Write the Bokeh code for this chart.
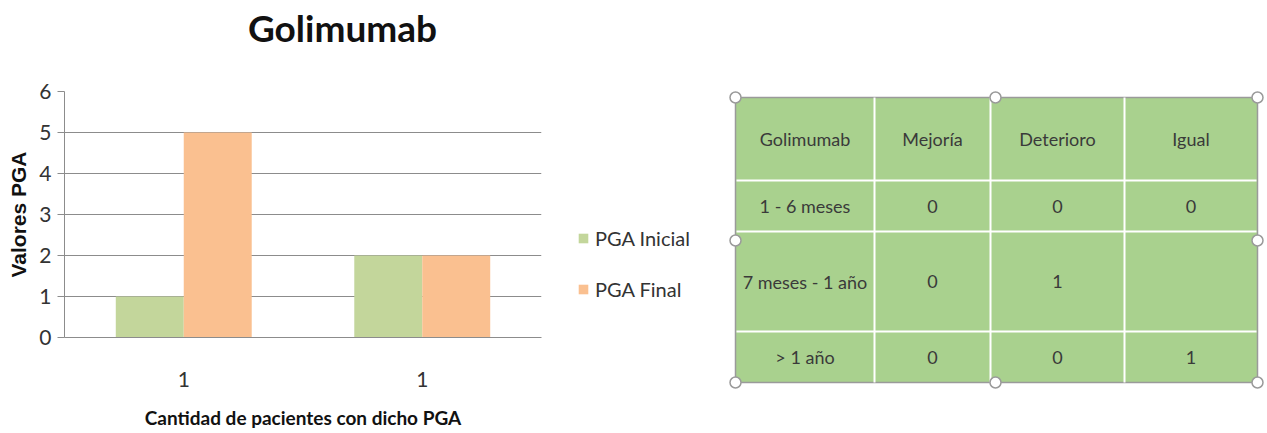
from bokeh.plotting import figure
from bokeh.layouts import row, column
from bokeh.models import Range1d, FixedTicker, Legend, LegendItem
from bokeh.core.properties import value
from bokeh.embed import file_html
from bokeh.resources import INLINE

# ---- chart data ----
title_text = "Golimumab"
categories = ["1", "1"]
pga_inicial = [1, 2]
pga_final = [5, 2]
series_names = ["PGA Inicial", "PGA Final"]
series_colors = ["#c3d69b", "#fac090"]

# ---- table data ----
table_header = ["Golimumab", "Mejoría", "Deterioro", "Igual"]
table_rows = ["1 - 6 meses", "7 meses - 1 año", "> 1 año"]
mejoria = ["0", "0", "0"]
deterioro = ["0", "1", "0"]
igual = ["0", "", "1"]

FONT = "Lato"
GRID = "#8c8c8c"
TXT = "#333333"
W, H = 1267, 433
TOP = 71          # height of the title strip
CHART_W = 560     # width of the bar-chart figure


def blank(fig):
    fig.outline_line_color = None
    fig.axis.visible = False
    fig.grid.visible = False


# ================= title strip =================
head = figure(width=W, height=TOP, output_backend="svg", toolbar_location=None,
              x_range=Range1d(0, W), y_range=Range1d(TOP, 0), min_border=0,
              frame_align=False)
blank(head)
head.text(x=[342], y=[27], text=[title_text], text_align="center",
          text_baseline="middle", text_font=value(FONT),
          text_font_style="bold", text_font_size="37px", text_color="#111111")

# ================= bar chart =================
p = figure(width=CHART_W, height=H - TOP, output_backend="svg",
           toolbar_location=None, x_range=Range1d(0, 2), y_range=Range1d(0, 6),
           min_border_left=64, min_border_right=CHART_W - 541,
           min_border_top=91 - TOP, min_border_bottom=96, frame_align=False)
p.outline_line_color = None
p.background_fill_color = "white"

centers = [i + 0.5 for i in range(len(categories))]
bw = 0.285
p.vbar(x=[c - bw / 2 for c in centers], top=pga_inicial, width=bw,
       color=series_colors[0], line_color=None)
p.vbar(x=[c + bw / 2 for c in centers], top=pga_final, width=bw,
       color=series_colors[1], line_color=None)

p.xgrid.visible = False
p.ygrid.grid_line_color = GRID
p.ygrid.grid_line_width = 1.2
p.ygrid.ticker = FixedTicker(ticks=list(range(0, 7)))

ya = p.yaxis[0]
ya.ticker = FixedTicker(ticks=list(range(0, 7)))
ya.axis_line_color = GRID
ya.major_tick_line_color = GRID
ya.major_tick_out = 7
ya.major_tick_in = 0
ya.minor_tick_line_color = None
ya.major_label_text_font = FONT
ya.major_label_text_font_size = "21px"
ya.major_label_text_color = TXT
ya.major_label_standoff = 6
ya.axis_label = "Valores PGA"
ya.axis_label_text_font = "Liberation Sans"
ya.axis_label_text_font_style = "bold"
ya.axis_label_text_font_size = "21px"
ya.axis_label_text_color = "#111111"
ya.axis_label_standoff = 6

xa = p.xaxis[0]
xa.ticker = FixedTicker(ticks=centers)
xa.major_label_overrides = {c: lab for c, lab in zip(centers, categories)}
xa.axis_line_color = GRID
xa.major_tick_line_color = None
xa.minor_tick_line_color = None
xa.major_label_text_font = FONT
xa.major_label_text_font_size = "21px"
xa.major_label_text_color = TXT
xa.major_label_standoff = 28
xa.axis_label = "Cantidad de pacientes con dicho PGA"
xa.axis_label_text_font = FONT
xa.axis_label_text_font_style = "bold"
xa.axis_label_text_font_size = "19px"
xa.axis_label_text_color = "#111111"
xa.axis_label_standoff = 16

# ================= legend + table panel =================
LEFT = CHART_W
t = figure(width=W - LEFT, height=H - TOP, output_backend="svg",
           toolbar_location=None, x_range=Range1d(LEFT, W),
           y_range=Range1d(H, TOP), min_border=0, frame_align=False)
blank(t)

# zero-height bars that only supply the legend swatches
sw1 = t.vbar(x=[LEFT], top=[TOP], bottom=[TOP], width=1,
             color=series_colors[0], line_color=None)
sw2 = t.vbar(x=[LEFT], top=[TOP], bottom=[TOP], width=1,
             color=series_colors[1], line_color=None)
legend = Legend(items=[LegendItem(label=series_names[0], renderers=[sw1]),
                       LegendItem(label=series_names[1], renderers=[sw2])],
                location=(577 - LEFT, H - 301), orientation="vertical",
                glyph_width=12, glyph_height=12, label_height=24,
                label_standoff=6, spacing=27, padding=0, margin=0,
                label_text_font=FONT, label_text_font_size="20px",
                label_text_color=TXT, border_line_alpha=0,
                background_fill_alpha=0)
t.add_layout(legend)

col_edges = [735, 874, 990, 1124, 1257]
row_edges = [97, 180, 231, 331, 382]

t.quad(left=col_edges[0], right=col_edges[-1], top=row_edges[0],
       bottom=row_edges[-1], fill_color="#a9d18e", line_color="#9a9a9a",
       line_width=1.5)
# inner white cell borders
t.segment(x0=col_edges[1:-1], x1=col_edges[1:-1],
          y0=[row_edges[0]] * 3, y1=[row_edges[-1]] * 3,
          line_color="white", line_width=2)
t.segment(x0=[col_edges[0] + 1] * 3, x1=[col_edges[-1] - 1] * 3,
          y0=row_edges[1:-1], y1=row_edges[1:-1],
          line_color="white", line_width=2)

cx = [(a + b) / 2 for a, b in zip(col_edges[:-1], col_edges[1:])]
cy = [(a + b) / 2 for a, b in zip(row_edges[:-1], row_edges[1:])]
cells_x, cells_y, cells_t = [], [], []
for j, h in enumerate(table_header):
    cells_x.append(cx[j]); cells_y.append(cy[0]); cells_t.append(h)
for i, lab in enumerate(table_rows):
    for j, v in enumerate([lab, mejoria[i], deterioro[i], igual[i]]):
        cells_x.append(cx[j]); cells_y.append(cy[i + 1]); cells_t.append(v)
t.text(x=cells_x, y=cells_y, text=cells_t, text_align="center",
       text_baseline="middle", text_font=value(FONT),
       text_font_size="18px", text_color="#3a3a3a")

# selection handles around the table
hx = [col_edges[0], 995, col_edges[-1], col_edges[0], col_edges[-1],
      col_edges[0], 995, col_edges[-1]]
hy = [row_edges[0], row_edges[0], row_edges[0], 240, 240,
      row_edges[-1], row_edges[-1], row_edges[-1]]
t.scatter(x=hx, y=hy, size=11, fill_color="white", line_color="#9a9a9a",
          line_width=1.5)

layout = column(head, row(p, t, spacing=0), spacing=0)
open("out.html", "w").write(file_html(layout, INLINE))
